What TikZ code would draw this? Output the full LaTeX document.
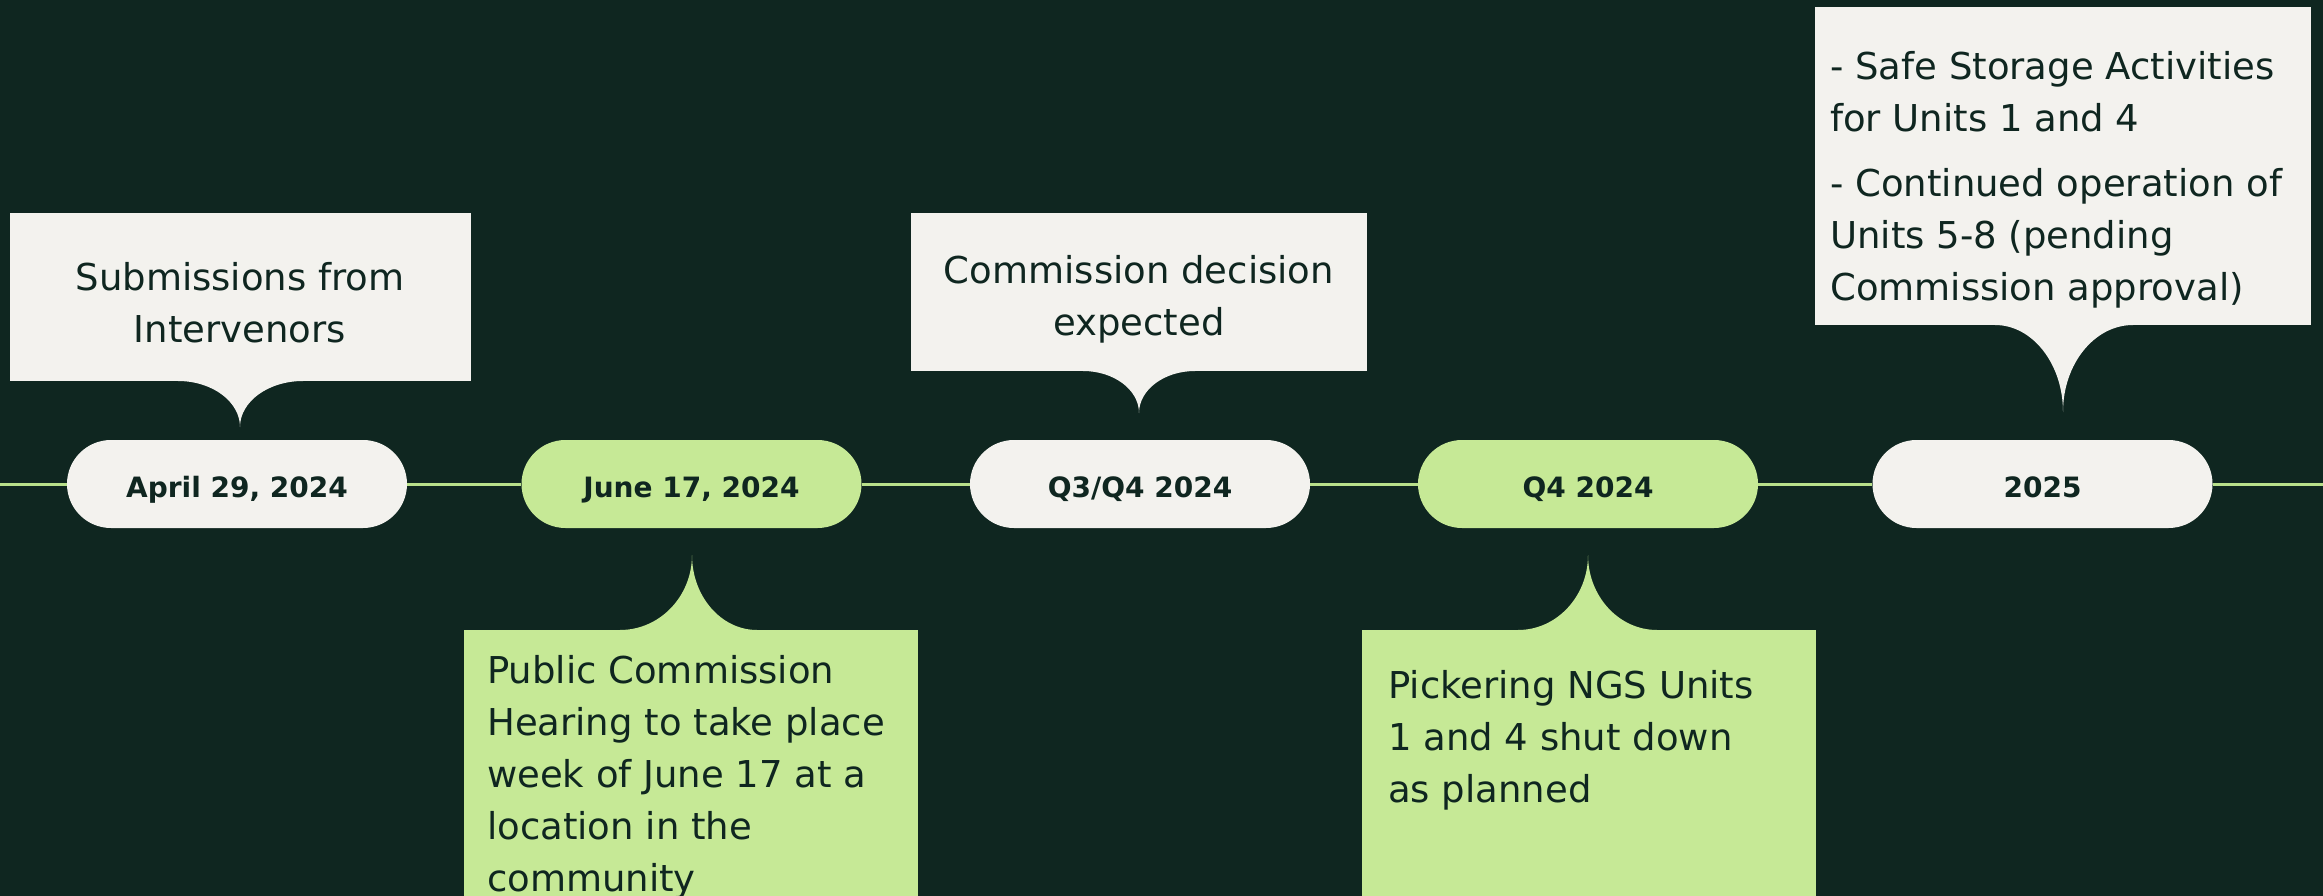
\documentclass[tikz,border=0pt]{standalone}
\usepackage{fontspec}
\setmainfont{DejaVu Sans}
\definecolor{bg}{RGB}{15,38,32}
\definecolor{light}{RGB}{243,242,238}
\definecolor{leaf}{RGB}{198,233,150}
\definecolor{rail}{RGB}{184,224,138}
\definecolor{ink}{RGB}{15,38,32}
\begin{document}
\begin{tikzpicture}[x=1pt,y=-1pt,
  pill/.style={rounded corners=44pt, minimum width=340pt, minimum height=88pt,
    inner sep=0pt, font=\fontsize{28}{34}\selectfont\bfseries, text=ink,
    text height=26pt, text depth=0pt},
  lightpill/.style={pill, fill=light},
  leafpill/.style={pill, fill=leaf},
  card/.style={inner sep=0pt, outer sep=0pt},
  lightcard/.style={card, fill=light},
  leafcard/.style={card, fill=leaf},
  txt/.style={inner sep=0pt, text=ink, font=\fontsize{37}{52}\selectfont},
  railline/.style={draw=rail, line width=3pt}
]
% background / bounding box
\fill[bg] (0,0) rectangle (2323,896);
\useasboundingbox (0,0) rectangle (2323,896);

% timeline pills
\node[lightpill] (p1) at (237,484) {April 29, 2024};
\node[leafpill]  (p2) at (691.5,484) {June 17, 2024};
\node[lightpill] (p3) at (1140,484) {Q3/Q4 2024};
\node[leafpill]  (p4) at (1588,484) {Q4 2024};
\node[lightpill] (p5) at (2042.5,484) {2025};

\coordinate (w) at (0,484);
\coordinate (e) at (2323,484);
\draw[railline] (w) -- (p1) (p1) -- (p2) (p2) -- (p3) (p3) -- (p4) (p4) -- (p5) (p5) -- (e);

% cards
\node[lightcard, minimum width=461pt, minimum height=168pt] (b1) at (240.5,297) {};
\node[leafcard,  minimum width=454pt, minimum height=270pt] (b2) at (691,765) {};
\node[lightcard, minimum width=456pt, minimum height=158pt] (b3) at (1139,292) {};
\node[leafcard,  minimum width=454pt, minimum height=270pt] (b4) at (1589,765) {};
\node[lightcard, minimum width=496pt, minimum height=318pt] (b5) at (2063,166) {};

% callout tails
\fill[light] (178,379) -- (178,381) .. controls (212.2,381) and (240,401.6) .. (240,427)
  .. controls (240,401.6) and (268.2,381) .. (303,381) -- (303,379) -- cycle;
\fill[light] (1083,369) -- (1083,371) .. controls (1113.9,371) and (1139,389.8) .. (1139,413)
  .. controls (1139,389.8) and (1164.1,371) .. (1195,371) -- (1195,369) -- cycle;
\fill[light] (1995,323) -- (1995,325) .. controls (2032.6,325) and (2063,364) .. (2063,412)
  .. controls (2063,364) and (2094.3,325) .. (2133,325) -- (2133,323) -- cycle;
\fill[leaf] (620,632) -- (620,630) .. controls (659.8,630) and (692,596.4) .. (692,555)
  .. controls (692,596.4) and (721.1,630) .. (757,630) -- (757,632) -- cycle;
\fill[leaf] (1518,632) -- (1518,630) .. controls (1556.7,630) and (1588,596.4) .. (1588,555)
  .. controls (1588,596.4) and (1618.9,630) .. (1657,630) -- (1657,632) -- cycle;

% texts
\node[txt, anchor=north, align=center] (t1) at (240,260)
  {\rule{0pt}{30pt}Submissions from\\Intervenors};
\node[txt, anchor=north west, align=left] (t2) at (487,653)
  {\rule{0pt}{30pt}Public Commission\\Hearing to take place\\week of June 17 at a\\location in the\\community};
\node[txt, anchor=north, align=center] (t3) at (1139,253)
  {\rule{0pt}{30pt}Commission decision\\expected};
\node[txt, anchor=north west, align=left] (t4) at (1388,668)
  {\rule{0pt}{30pt}Pickering NGS Units\\1 and 4 shut down\\as planned};
\node[txt, anchor=north west, align=left] (t5) at (1830,49)
  {\rule{0pt}{30pt}- Safe Storage Activities\\for Units 1 and 4\\[13pt]- Continued operation of\\Units 5-8 (pending\\Commission approval)};
\end{tikzpicture}
\end{document}
